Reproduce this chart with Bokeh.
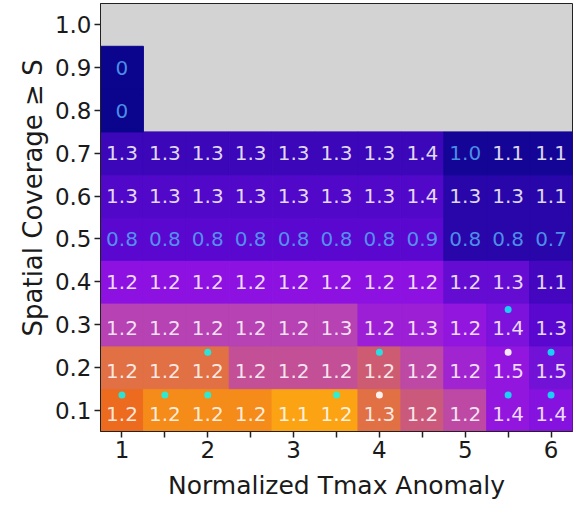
import numpy as np
from bokeh.plotting import figure
from bokeh.models import ColumnDataSource, LinearColorMapper, FixedTicker, Title
from bokeh.transform import transform
from bokeh.core.properties import value
from bokeh.embed import file_html
from bokeh.resources import INLINE

# Normalized Tmax anomaly bins (columns) and spatial-coverage thresholds (rows)
anomaly = [1.0, 1.5, 2.0, 2.5, 3.0, 3.5, 4.0, 4.5, 5.0, 5.5, 6.0]
coverage = [0.1, 0.2, 0.3, 0.4, 0.5, 0.6, 0.7, 0.8, 0.9]

# Ratio printed in each cell, one list per coverage threshold (None = no data)
ratio_s01 = [1.2, 1.2, 1.2, 1.2, 1.1, 1.2, 1.3, 1.2, 1.2, 1.4, 1.4]
ratio_s02 = [1.2, 1.2, 1.2, 1.2, 1.2, 1.2, 1.2, 1.2, 1.2, 1.5, 1.5]
ratio_s03 = [1.2, 1.2, 1.2, 1.2, 1.2, 1.3, 1.2, 1.3, 1.2, 1.4, 1.3]
ratio_s04 = [1.2, 1.2, 1.2, 1.2, 1.2, 1.2, 1.2, 1.2, 1.2, 1.3, 1.1]
ratio_s05 = [0.8, 0.8, 0.8, 0.8, 0.8, 0.8, 0.8, 0.9, 0.8, 0.8, 0.7]
ratio_s06 = [1.3, 1.3, 1.3, 1.3, 1.3, 1.3, 1.3, 1.4, 1.3, 1.3, 1.1]
ratio_s07 = [1.3, 1.3, 1.3, 1.3, 1.3, 1.3, 1.3, 1.4, 1.0, 1.1, 1.1]
ratio_s08 = [0, None, None, None, None, None, None, None, None, None, None]
ratio_s09 = [0, None, None, None, None, None, None, None, None, None, None]

# Shading value of each cell (0 = low, 1 = high)
shade_s01 = [0.76, 0.81, 0.81, 0.81, 0.86, 0.86, 0.70, 0.64, 0.58, 0.47, 0.44]
shade_s02 = [0.70, 0.70, 0.70, 0.60, 0.60, 0.60, 0.65, 0.58, 0.50, 0.47, 0.40]
shade_s03 = [0.56, 0.56, 0.56, 0.56, 0.56, 0.56, 0.49, 0.49, 0.47, 0.42, 0.33]
shade_s04 = [0.46, 0.46, 0.46, 0.46, 0.46, 0.46, 0.46, 0.46, 0.36, 0.36, 0.27]
shade_s05 = [0.33, 0.33, 0.33, 0.33, 0.33, 0.33, 0.33, 0.33, 0.18, 0.18, 0.18]
shade_s06 = [0.31, 0.31, 0.31, 0.31, 0.31, 0.31, 0.31, 0.31, 0.18, 0.18, 0.18]
shade_s07 = [0.25, 0.25, 0.25, 0.25, 0.25, 0.25, 0.25, 0.25, 0.08, 0.08, 0.08]
shade_s08 = [0.02, None, None, None, None, None, None, None, None, None, None]
shade_s09 = [0.02, None, None, None, None, None, None, None, None, None, None]

ratios = [ratio_s01, ratio_s02, ratio_s03, ratio_s04, ratio_s05,
          ratio_s06, ratio_s07, ratio_s08, ratio_s09]
shades = [shade_s01, shade_s02, shade_s03, shade_s04, shade_s05,
          shade_s06, shade_s07, shade_s08, shade_s09]

# Significance markers (cyan and white dots)
cyan_x = [1.0, 1.5, 2.0, 3.5, 5.5, 6.0, 2.0, 4.0, 6.0, 5.5]
cyan_s = [0.1, 0.1, 0.1, 0.1, 0.1, 0.1, 0.2, 0.2, 0.2, 0.3]
white_x = [4.0, 5.5]
white_s = [0.1, 0.2]

x_ticks = [1.0, 1.5, 2.0, 2.5, 3.0, 3.5, 4.0, 4.5, 5.0, 5.5, 6.0]
x_tick_labels = ["1", "", "2", "", "3", "", "4", "", "5", "", "6"]
y_ticks = [0.1, 0.2, 0.3, 0.4, 0.5, 0.6, 0.7, 0.8, 0.9, 1.0]
y_tick_labels = ["0.1", "0.2", "0.3", "0.4", "0.5", "0.6", "0.7", "0.8", "0.9", "1.0"]

# Colour ramp from navy through violet and magenta to orange
stops = [(0.00, (8, 5, 138)), (0.08, (20, 5, 150)), (0.18, (40, 6, 170)),
         (0.25, (60, 7, 185)), (0.33, (90, 8, 207)), (0.40, (115, 18, 215)),
         (0.46, (142, 18, 226)), (0.50, (160, 35, 210)), (0.56, (182, 66, 180)),
         (0.60, (195, 80, 150)), (0.65, (205, 92, 115)), (0.70, (225, 112, 70)),
         (0.76, (236, 106, 30)), (0.81, (245, 138, 24)), (0.86, (252, 162, 18)),
         (1.00, (255, 220, 60))]
pos = np.linspace(0, 1, 256)
sp = [s[0] for s in stops]
chan = [np.interp(pos, sp, [s[1][i] for s in stops]) for i in range(3)]
palette = ["#%02x%02x%02x" % (int(round(r)), int(round(g)), int(round(b)))
           for r, g, b in zip(*chan)]
mapper = LinearColorMapper(palette=palette, low=0, high=1)

FONT = "DejaVu Sans"

# Flatten the grid into cell records
cx, cy, cval, ctext, ccol, ty = [], [], [], [], [], []
marked = set(cyan_s) | set(white_s)
for s, rrow, srow in zip(coverage, ratios, shades):
    for x, r, v in zip(anomaly, rrow, srow):
        if r is None:
            continue
        cx.append(x)
        cy.append(s)
        cval.append(v)
        ctext.append(f"{r:.1f}" if r != 0 else "0")
        ccol.append("#55a8f5" if r <= 1.0 else "white")
        ty.append(s - 0.008 if s in marked else s)

cells = ColumnDataSource(dict(x=cx, y=cy, v=cval, label=ctext, tc=ccol, ty=ty))

p = figure(frame_width=472, frame_height=428,
           x_range=(0.75, 6.25), y_range=(0.05, 1.05),
           output_backend="svg", toolbar_location=None,
           min_border_left=100, min_border_right=4,
           min_border_top=3, min_border_bottom=74)
p.background_fill_color = "#d3d3d3"
p.border_fill_color = "white"
p.outline_line_color = "#222222"
p.outline_line_width = 1
p.grid.visible = False

# Cells are stroked in their own colour so neighbouring rects leave no seams
p.rect(x="x", y="y", width=0.5, height=0.1, source=cells,
       fill_color=transform("v", mapper),
       line_color=transform("v", mapper), line_width=1)

p.text(x="x", y="ty", text="label", source=cells, text_color="tc",
       text_alpha=0.85, text_font=value(FONT), text_font_size="20px",
       text_align="center", text_baseline="middle")

p.scatter(x=cyan_x, y=[s + 0.035 for s in cyan_s], size=7,
          fill_color="cyan", fill_alpha=0.8, line_color=None)
p.scatter(x=white_x, y=[s + 0.035 for s in white_s], size=7,
          fill_color="white", fill_alpha=0.9, line_color=None)

for ax in (p.xaxis[0], p.yaxis[0]):
    ax.major_label_text_font = FONT
    ax.major_label_text_font_size = "23px"
    ax.major_label_text_color = "#1a1a1a"
    ax.axis_label_text_font = FONT
    ax.axis_label_text_font_style = "normal"
    ax.axis_label_text_color = "#1a1a1a"
    ax.major_tick_out = 6
    ax.major_tick_in = 0
    ax.major_tick_line_width = 1.5
    ax.major_tick_line_color = "#222222"
    ax.minor_tick_line_color = None
    ax.axis_line_color = "#222222"
    ax.major_label_standoff = 3

p.xaxis.ticker = FixedTicker(ticks=x_ticks)
p.xaxis.major_label_overrides = {t: l for t, l in zip(x_ticks, x_tick_labels)}
p.yaxis.ticker = FixedTicker(ticks=y_ticks)
p.yaxis.major_label_overrides = {t: l for t, l in zip(y_ticks, y_tick_labels)}
p.xaxis.axis_label = "Normalized Tmax Anomaly"
p.xaxis.axis_label_text_font_size = "25px"
p.xaxis.axis_label_standoff = 10

# Vertical axis title, set as a side title so it can sit a little above centre
ytitle = Title(text="Spatial Coverage \u2265 S", align="left", offset=95,
               text_font=FONT, text_font_size="26px", text_font_style="normal",
               text_color="#1a1a1a", standoff=8)
p.add_layout(ytitle, "left")

open("out.html", "w").write(file_html(p, INLINE))
